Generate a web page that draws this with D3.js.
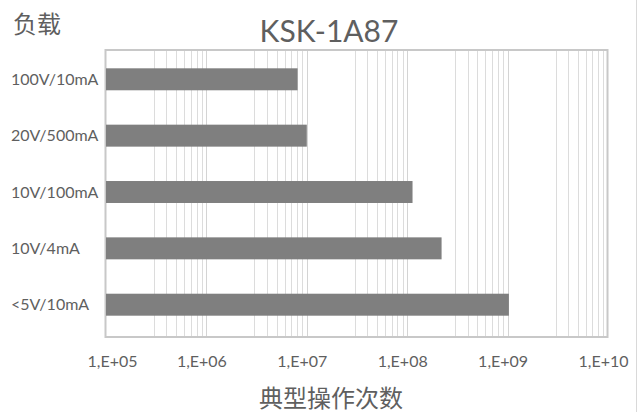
<!DOCTYPE html>
<html lang="zh">
<head>
  <meta charset="UTF-8" />
  <title>KSK-1A87</title>
  <script src="https://cdn.jsdelivr.net/npm/d3@7/dist/d3.min.js"></script>
  <style>
    html, body {
      margin: 0;
      padding: 0;
      background: #ffffff;
      overflow: hidden;
    }
    svg { display: block; }
    text { fill: #5f5f5f; font-family: Lato, "Noto Sans CJK SC", sans-serif; }
  </style>
</head>
<body>
  <script>
    // ------ Data ------
    const loads = ["100V/10mA", "20V/500mA", "10V/100mA", "10V/4mA", "<5V/10mA"];
    const operations = [8.1e6, 1.0e7, 1.13e8, 2.2e8, 1.03e9];
    const tickValues = [1e5, 1e6, 1e7, 1e8, 1e9, 1e10];
    const tickLabels = ["1,E+05", "1,E+06", "1,E+07", "1,E+08", "1,E+09", "1,E+10"];
    const minorSteps = [3, 4, 5, 6, 7, 8, 9];

    // ------ Layout ------
    const width = 641, height = 412;
    const plot = { left: 106, right: 608, top: 50, bottom: 337 };

    const svg = d3.select("body").append("svg")
      .attr("width", width)
      .attr("height", height);

    // outer chart edge on the right
    svg.append("line")
      .attr("x1", 636.5).attr("x2", 636.5)
      .attr("y1", 0).attr("y2", height)
      .attr("stroke", "#d9d9d9")
      .attr("stroke-width", 1);

    const x = d3.scaleLog()
      .domain([1e5, 1e10])
      .range([plot.left, plot.right]);

    const y = d3.scaleBand()
      .domain(loads)
      .range([plot.top, plot.bottom - 3])
      .paddingInner(0.61)
      .paddingOuter(0.325);

    // ------ Gridlines ------
    const minorValues = [];
    for (let e = 5; e < 10; e++) {
      minorSteps.forEach(k => minorValues.push(k * Math.pow(10, e)));
    }
    const grid = svg.append("g");
    grid.selectAll("line.minor")
      .data(minorValues)
      .enter().append("line")
      .attr("class", "minor")
      .attr("x1", d => Math.round(x(d)) + 0.5)
      .attr("x2", d => Math.round(x(d)) + 0.5)
      .attr("y1", plot.top)
      .attr("y2", plot.bottom)
      .attr("stroke", "#dcdcdc")
      .attr("stroke-width", 1);
    grid.selectAll("line.major")
      .data(tickValues.slice(1, -1))
      .enter().append("line")
      .attr("class", "major")
      .attr("x1", d => Math.round(x(d)) + 0.5)
      .attr("x2", d => Math.round(x(d)) + 0.5)
      .attr("y1", plot.top)
      .attr("y2", plot.bottom)
      .attr("stroke", "#d4d4d4")
      .attr("stroke-width", 1);

    // plot area border
    svg.append("rect")
      .attr("x", plot.left - 0.5)
      .attr("y", plot.top)
      .attr("width", plot.right - plot.left)
      .attr("height", plot.bottom - plot.top)
      .attr("fill", "none")
      .attr("stroke", "#c8c8c8")
      .attr("stroke-width", 2);

    // ------ Bars ------
    svg.append("g").selectAll("rect")
      .data(loads)
      .enter().append("rect")
      .attr("x", plot.left)
      .attr("y", d => y(d))
      .attr("height", y.bandwidth())
      .attr("width", (d, i) => x(operations[i]) - plot.left)
      .attr("fill", "#7f7f7f");

    // ------ Category labels ------
    svg.append("g").selectAll("text")
      .data(loads)
      .enter().append("text")
      .attr("x", 11)
      .attr("y", d => y(d) + y.bandwidth() / 2)
      .attr("dy", "0.36em")
      .attr("font-size", 16)
      .text(d => d);

    // ------ X axis ------
    const xAxis = d3.axisBottom(x)
      .tickValues(tickValues)
      .tickFormat((d, i) => tickLabels[i])
      .tickSize(0)
      .tickPadding(19);
    const axisG = svg.append("g")
      .attr("transform", `translate(0,${plot.bottom})`)
      .call(xAxis);
    axisG.select(".domain").remove();
    // labels sit a little left of their gridline; the first one is pushed inward
    axisG.selectAll("text")
      .attr("font-size", 16)
      .attr("font-family", 'Lato, sans-serif')
      .attr("fill", "#5f5f5f")
      .attr("dx", (d, i) => i === 0 ? 6 : -5);

    // ------ Titles ------
    svg.append("text")
      .attr("x", 329)
      .attr("y", 42)
      .attr("text-anchor", "middle")
      .attr("font-size", 30)
      .text("KSK-1A87");

    svg.append("text")
      .attr("x", 13)
      .attr("y", 33)
      .attr("font-size", 24)
      .attr("font-family", '"Noto Sans CJK SC", sans-serif')
      .text("负载");

    svg.append("text")
      .attr("x", 331)
      .attr("y", 407)
      .attr("text-anchor", "middle")
      .attr("font-size", 24)
      .attr("font-family", '"Noto Sans CJK SC", sans-serif')
      .text("典型操作次数");
  </script>
</body>
</html>
